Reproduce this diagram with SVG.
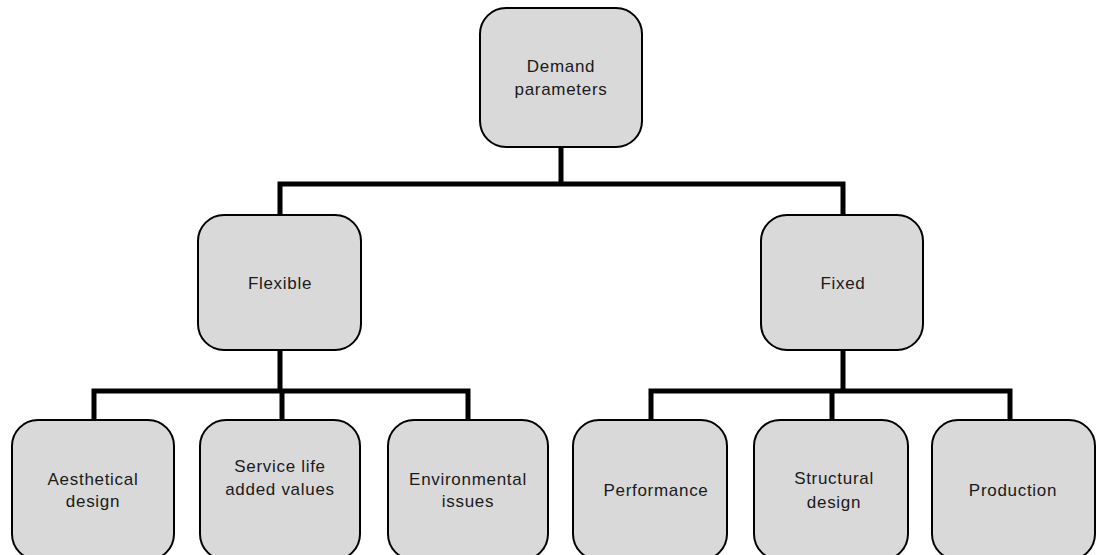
<svg xmlns="http://www.w3.org/2000/svg" width="1105" height="555" viewBox="0 0 1105 555">
<style>
.box{fill:#d9d9d9;stroke:#000;stroke-width:2}
.lbl{font-family:"Liberation Sans",Arial,sans-serif;font-size:17px;letter-spacing:0.7px;fill:#1a1a1a;text-anchor:middle}
.con{fill:none;stroke:#000;stroke-width:5;stroke-linecap:square;stroke-linejoin:miter}
</style>
<rect width="1105" height="555" fill="#fff"/>
<g id="connectors">
<path class="con" d="M561 148 V184 M280 214 V184 H843 V214"/>
<path class="con" d="M280 351 V391 M94 419 V391 H468 V419 M282 391 V419"/>
<path class="con" d="M843 351 V391 M651 419 V391 H1010 V419 M832 391 V419"/>
</g>
<g id="n-demand">
<rect class="box" x="480" y="8" width="162" height="139" rx="26"/>
<text class="lbl" x="561" y="72">Demand</text>
<text class="lbl" x="561" y="95">parameters</text>
</g>
<g id="n-flexible">
<rect class="box" x="198" y="215" width="163" height="135" rx="26"/>
<text class="lbl" x="280" y="289">Flexible</text>
</g>
<g id="n-fixed">
<rect class="box" x="761" y="215" width="162" height="135" rx="26"/>
<text class="lbl" x="843" y="289">Fixed</text>
</g>
<g id="n-aesthetical">
<rect class="box" x="12" y="420" width="162" height="140" rx="26"/>
<text class="lbl" x="93" y="485">Aesthetical</text>
<text class="lbl" x="93" y="507">design</text>
</g>
<g id="n-service">
<rect class="box" x="200" y="420" width="160" height="140" rx="26"/>
<text class="lbl" x="280" y="472">Service life</text>
<text class="lbl" x="280" y="495">added values</text>
</g>
<g id="n-environmental">
<rect class="box" x="388" y="420" width="160" height="140" rx="26"/>
<text class="lbl" x="468" y="485">Environmental</text>
<text class="lbl" x="468" y="507">issues</text>
</g>
<g id="n-performance">
<rect class="box" x="573" y="420" width="154" height="140" rx="26"/>
<text class="lbl" x="656" y="496">Performance</text>
</g>
<g id="n-structural">
<rect class="box" x="754" y="420" width="154" height="140" rx="26"/>
<text class="lbl" x="834" y="484">Structural</text>
<text class="lbl" x="834" y="508">design</text>
</g>
<g id="n-production">
<rect class="box" x="932" y="420" width="163" height="140" rx="26"/>
<text class="lbl" x="1013" y="496">Production</text>
</g>
</svg>
